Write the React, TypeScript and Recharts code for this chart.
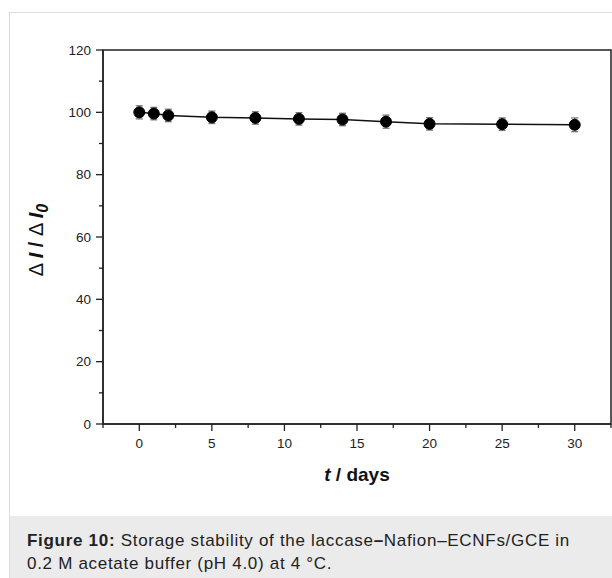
import {
  LineChart,
  Line,
  XAxis,
  YAxis,
  ErrorBar,
  ReferenceArea,
} from "recharts";
/* eslint-disable  @typescript-eslint/no-explicit-any */

const days = [0, 1, 2, 5, 8, 11, 14, 17, 20, 25, 30];
const ratio = [100, 99.6, 99.0, 98.4, 98.2, 97.9, 97.7, 97.0, 96.3, 96.2, 96.0];
const errors = [2.1, 2.0, 2.0, 2.0, 2.0, 2.0, 2.0, 2.1, 2.0, 2.0, 2.2];

const xTicks = [-2.5, 0, 2.5, 5, 7.5, 10, 12.5, 15, 17.5, 20, 22.5, 25, 27.5, 30, 32.5];
const yTicks = [0, 10, 20, 30, 40, 50, 60, 70, 80, 90, 100, 110, 120];

const data = days.map((d, i) => ({ day: d, ratio: ratio[i], err: errors[i] }));

const FONT = '"Liberation Sans", Arial, sans-serif';
const AXIS = "#222";

const XTick = (props: any) => {
  const { x, y, payload } = props;
  const major = payload.value % 5 === 0;
  return (
    <g>
      <line x1={x} x2={x} y1={y} y2={y + (major ? 7 : 4)} stroke={AXIS} strokeWidth={1.3} />
      {major && (
        <text
          x={x}
          y={y + 24}
          textAnchor="middle"
          fill={AXIS}
          style={{ fontSize: "13.5px", fontFamily: FONT }}
        >
          {payload.value}
        </text>
      )}
    </g>
  );
};

const YTick = (props: any) => {
  const { x, y, payload } = props;
  const major = payload.value % 20 === 0;
  return (
    <g>
      <line x1={x - (major ? 7 : 4)} x2={x} y1={y} y2={y} stroke={AXIS} strokeWidth={1.3} />
      {major && (
        <text
          x={x - 12}
          y={y + 4.8}
          textAnchor="end"
          fill={AXIS}
          style={{ fontSize: "13.5px", fontFamily: FONT }}
        >
          {payload.value}
        </text>
      )}
    </g>
  );
};

export default function App() {
  return (
    <div
      style={{
        position: "absolute",
        left: 0,
        top: 0,
        width: 612,
        height: 578,
        overflow: "hidden",
        background: "#fff",
        fontFamily: FONT,
      }}
    >
      {/* figure frame */}
      <div
        style={{
          position: "absolute",
          left: 9,
          top: 12,
          width: 640,
          height: 620,
          border: "1px solid #dcdcdc",
        }}
      />
      <div
        style={{
          position: "absolute",
          left: 10,
          top: 516,
          width: 610,
          height: 70,
          background: "#ebebeb",
        }}
      />

      <div style={{ position: "absolute", left: 0, top: 0 }}>
        <LineChart
          width={612}
          height={578}
          data={data}
          margin={{ top: 50, right: 1, left: 43, bottom: 124 }}
        >
          <XAxis
            dataKey="day"
            type="number"
            domain={[-2.5, 32.5]}
            ticks={xTicks}
            interval={0}
            tickSize={0}
            tickMargin={0}
            tickLine={false}
            tick={<XTick />}
            stroke={AXIS}
            strokeWidth={1.5}
            height={30}
            allowDataOverflow
          />
          <YAxis
            type="number"
            domain={[0, 120]}
            ticks={yTicks}
            interval={0}
            tickSize={0}
            tickMargin={0}
            tickLine={false}
            tick={<YTick />}
            stroke={AXIS}
            strokeWidth={1.5}
            width={60}
            allowDataOverflow
          />
          <ReferenceArea
            x1={-2.5}
            x2={32.5}
            y1={0}
            y2={120}
            fill="none"
            stroke={AXIS}
            strokeWidth={1.5}
            fillOpacity={0}
            ifOverflow="visible"
          />
          <Line
            dataKey="ratio"
            stroke="#111"
            strokeWidth={1.5}
            dot={{ r: 5.5, fill: "#000", stroke: "#000", strokeWidth: 1 }}
            isAnimationActive={false}
          >
            <ErrorBar dataKey="err" direction="y" width={3.5} stroke="#777" strokeWidth={1.3} />
          </Line>
        </LineChart>
      </div>

      {/* y axis title */}
      <div
        style={{
          position: "absolute",
          left: 38,
          top: 240,
          transform: "translate(-50%, -50%) rotate(-90deg)",
          whiteSpace: "nowrap",
          fontSize: 20,
          color: "#111",
        }}
      >
        <span style={{ fontWeight: "normal" }}>Δ </span>
        <b>
          <i>I</i> /{" "}
        </b>
        <span style={{ fontWeight: "normal" }}>Δ </span>
        <b>
          <i>
            I<sub style={{ fontSize: "0.8em" }}>0</sub>
          </i>
        </b>
      </div>

      {/* x axis title */}
      <div
        style={{
          position: "absolute",
          left: 357,
          top: 475,
          transform: "translate(-50%, -50%)",
          whiteSpace: "nowrap",
          fontSize: 19,
          fontWeight: "bold",
          color: "#111",
        }}
      >
        <i>t</i> / days
      </div>

      {/* caption */}
      <div
        style={{
          position: "absolute",
          left: 27,
          top: 529,
          width: 585,
          fontSize: 17,
          letterSpacing: "0.7px",
          lineHeight: "23px",
          color: "#222",
          whiteSpace: "nowrap",
        }}
      >
        <b>Figure 10:</b> Storage stability of the laccase<b>–</b>Nafion–ECNFs/GCE in
        <br />
        0.2 M acetate buffer (pH 4.0) at 4 °C.
      </div>
    </div>
  );
}
